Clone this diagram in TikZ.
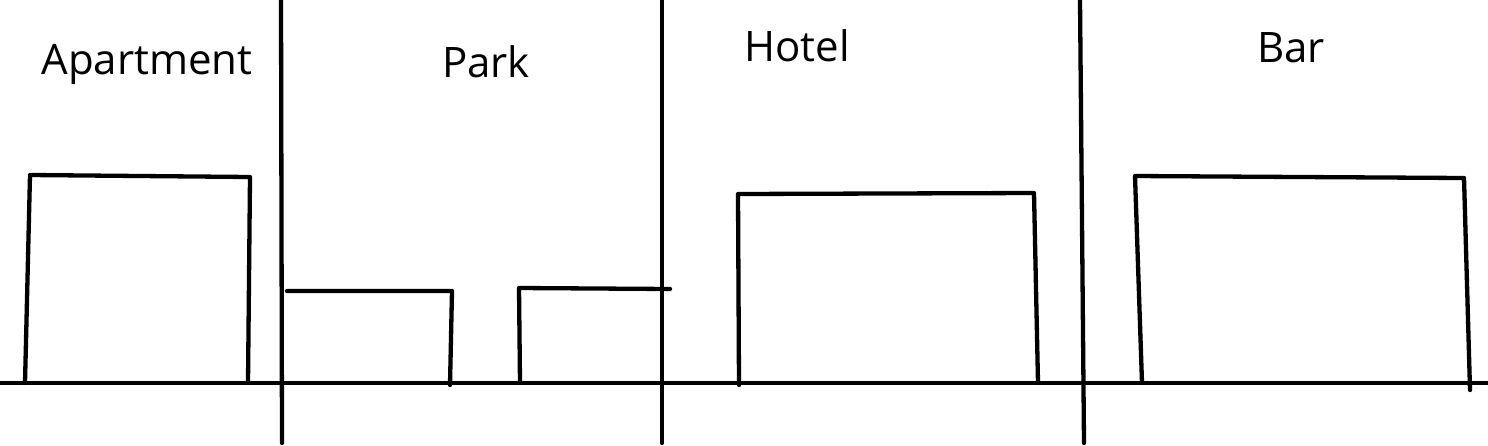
\documentclass[tikz,border=0pt]{standalone}
\usepackage{fontspec}
\setmainfont{Open Sans}
\begin{document}
\begin{tikzpicture}[x=1pt,y=-1pt,
  ln/.style={line width=4.3pt,line cap=round,line join=round,black},
  lbl/.style={font=\fontsize{42}{48}\selectfont,inner sep=0pt}]
\useasboundingbox (0,0) rectangle (1488,445);
% ground and dividers
\coordinate (g0) at (0,383); \coordinate (g1) at (1488,383);
\draw[ln] (g0) -- (g1);
\coordinate (d1a) at (281,0); \coordinate (d1b) at (282,443);
\coordinate (d2a) at (662,0); \coordinate (d2b) at (662,443);
\coordinate (d3a) at (1080,0); \coordinate (d3b) at (1084,443);
\draw[ln] (d1a) -- (d1b);
\draw[ln] (d2a) -- (d2b);
\draw[ln] (d3a) -- (d3b);
% apartment
\draw[ln] (25,383) -- (30,175) -- (250,177) -- (248,383);
% park
\draw[ln] (287,291) -- (452,291) -- (450,385);
\draw[ln] (520,383) -- (519,288) -- (670,289);
% hotel
\draw[ln] (739,385) -- (738,194) -- (1034,193) -- (1038,383);
% bar
\draw[ln] (1142,383) -- (1135,176) -- (1464,178) -- (1470,390);
% labels
\node[lbl] (apt) at (147,64) {Apartment};
\node[lbl] (park) at (486,62) {Park};
\node[lbl] (hotel) at (797,46) {Hotel};
\node[lbl] (bar) at (1291,48) {Bar};
\end{tikzpicture}
\end{document}
